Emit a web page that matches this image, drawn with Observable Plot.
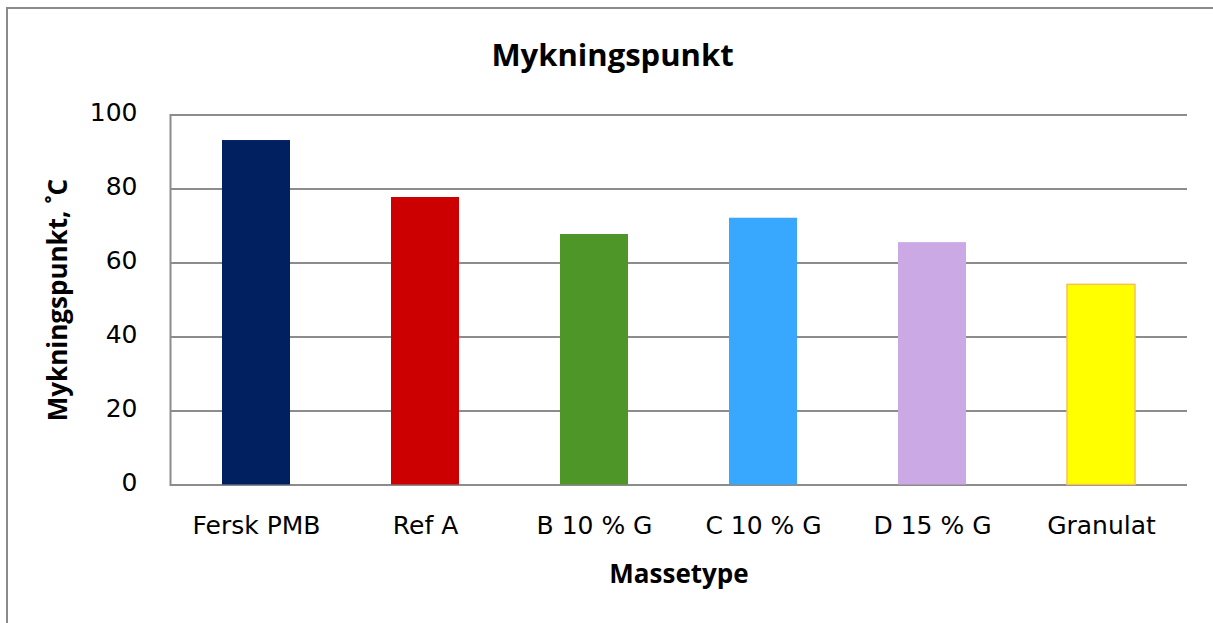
<!DOCTYPE html>
<html>
<head>
<meta charset="utf-8">
<script src="https://cdn.jsdelivr.net/npm/d3@7"></script>
<script src="https://cdn.jsdelivr.net/npm/@observablehq/plot@0.6"></script>
<style>
  html, body { margin: 0; padding: 0; background: #fff; overflow: hidden; }
  #wrap { position: relative; width: 1213px; height: 623px; }
  #frame { position: absolute; left: 6px; top: 7px; width: 1220px; height: 700px;
           border-left: 2px solid #8a8a8a; border-top: 2px solid #8a8a8a; box-sizing: border-box; }
  #chart { position: absolute; left: 0; top: 0; }
</style>
</head>
<body>
<div id="wrap"><div id="frame"></div><div id="chart"></div></div>
<script>
const categories = ["Fersk PMB", "Ref A", "B 10 % G", "C 10 % G", "D 15 % G", "Granulat"];
const values = [93.1, 77.7, 67.7, 72.1, 65.5, 54.1];
const colors = ["#002060", "#CC0000", "#4E9628", "#37A8FE", "#CBA9E4", "#FFFF00"];
const strokes = ["none", "none", "none", "none", "none", "#F7C15A"];
const yTicks = [0, 20, 40, 60, 80, 100];
const titleText = "Mykningspunkt";
const xTitle = "Massetype";
const yTitle = "Mykningspunkt, \u02DAC";

const data = categories.map((c, i) => ({cat: c, value: values[i], fill: colors[i], stroke: strokes[i]}));

const tickFont = "DejaVu Sans";
const titleFont = "Open Sans";

const chart = Plot.plot({
  width: 1213,
  height: 623,
  marginLeft: 170,
  marginRight: 26,
  marginTop: 114.5,
  marginBottom: 138.5,
  style: {fontFamily: tickFont, fontSize: "25px", color: "#000", background: "transparent", overflow: "visible"},
  x: {domain: categories, paddingInner: 0.6, paddingOuter: 0.3, label: null},
  y: {domain: [0, 100], label: null},
  marks: [
    Plot.gridY(yTicks, {stroke: "#8c8c8c", strokeWidth: 2, strokeOpacity: 1}),
    Plot.frame({anchor: "left", stroke: "#8c8c8c", strokeWidth: 2}),
    Plot.barY(data, {x: "cat", y: "value", fill: "fill", stroke: "stroke", strokeWidth: 1.5, inset: 0}),
    Plot.axisY(yTicks, {tickSize: 0, tickPadding: 33, fontSize: 25, fill: "#000", label: null, dy: -2}),
    Plot.axisX({tickSize: 0, tickPadding: 31, fontSize: 25, fill: "#000", label: null}),
    Plot.text([titleText], {text: d => d, frameAnchor: "top", lineAnchor: "middle", textAnchor: "middle", dx: -66.5, dy: -59, fontFamily: titleFont, fontWeight: 700, fontSize: 31, fill: "#000"}),
    Plot.text([xTitle], {text: d => d, frameAnchor: "bottom", lineAnchor: "middle", textAnchor: "middle", dy: 90, fontFamily: titleFont, fontWeight: 700, fontSize: 26, fill: "#000"}),
    Plot.text([yTitle], {text: d => d, frameAnchor: "left", rotate: -90, lineAnchor: "middle", textAnchor: "middle", dx: -112, fontFamily: titleFont, fontWeight: 700, fontSize: 26, fill: "#000"})
  ]
});
document.getElementById("chart").appendChild(chart);
</script>
</body>
</html>
